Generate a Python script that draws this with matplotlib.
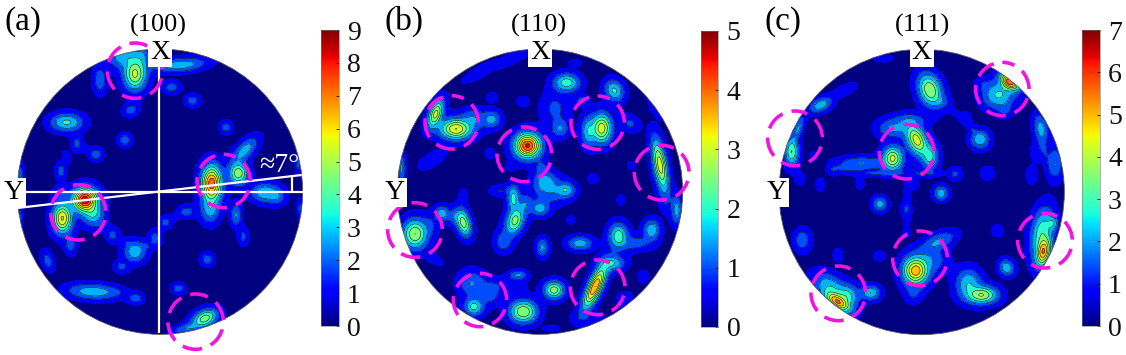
import numpy as np
import matplotlib
matplotlib.use('Agg')
import matplotlib.pyplot as plt
from matplotlib.patches import Circle
from matplotlib.cm import ScalarMappable
from matplotlib.colors import Normalize

plt.rcParams['font.family'] = ['Liberation Serif', 'DejaVu Serif']

# peaks of each pole figure: x, y, height, width along, width across, tilt
# x and y are in units of 1/3 pixel inside each panel
peaks_a = [
    (405, 222, 5.6, 20, 28, 0), (370, 170, 3.2, 32, 22, 0), (300, 240, 2.4, 14, 28, 0),
    (425, 170, 2.4, 16, 24, 0), (540, 195, 3.4, 48, 13, -5), (515, 262, 2.2, 18, 13, 0),
    (578, 302, 2.2, 16, 13, 0), (392, 330, 2.2, 17, 13, -20), (375, 420, 2.3, 14, 14, 0),
    (200, 367, 3.8, 30, 17, 0), (230, 430, 2.0, 12, 18, 0), (288, 463, 2.3, 14, 14, 0),
    (183, 513, 2.2, 11, 18, 0), (60, 530, 2.4, 8, 28, 0), (60, 650, 2.0, 6, 25, 0),
    (255, 600, 8.8, 20, 20, 0), (280, 640, 3.6, 20, 24, 0), (187, 655, 6.4, 17, 26, 0),
    (180, 580, 2.2, 14, 14, 0), (212, 735, 2.2, 12, 19, 0), (143, 782, 2.2, 12, 22, -20),
    (338, 705, 2.1, 13, 16, 0), (405, 755, 3.4, 21, 20, 0), (365, 800, 2.0, 16, 13, 0),
    (465, 715, 2.2, 13, 17, 0), (497, 668, 2.1, 13, 13, 0), (435, 738, 1.5, 14, 8, 0),
    (560, 635, 2.2, 18, 13, 0), (635, 550, 7.8, 17, 30, 0), (630, 625, 3.2, 18, 28, 0),
    (715, 520, 5.2, 17, 20, 0), (735, 450, 3.2, 32, 15, -45), (678, 382, 2.2, 13, 13, 0),
    (795, 578, 3.5, 26, 18, 0), (830, 590, 2.4, 18, 17, 0), (708, 645, 2.8, 11, 22, 0),
    (730, 710, 2.0, 11, 18, 0), (622, 778, 2.3, 14, 14, 0), (280, 875, 3.4, 48, 15, 3),
    (408, 895, 2.3, 15, 11, 0), (535, 865, 2.3, 14, 11, 0), (615, 955, 5.0, 24, 15, -25),
    (560, 985, 2.6, 30, 10, -15), (895, 490, 2.2, 6, 20, 0), (900, 625, 2.0, 6, 20, 0),
    (305, 680, 1.4, 12, 10, 40), (380, 728, 1.4, 12, 8, 30), (525, 650, 1.4, 14, 7, -20),
    (200, 470, 1.4, 8, 16, -20), (255, 445, 1.3, 12, 8, 20), (345, 875, 1.3, 18, 8, 10),
]
peaks_b = [
    (182, 342, 3.2, 12, 26, 20), (243, 387, 3.5, 28, 18, 0), (350, 358, 1.7, 18, 17, 0),
    (295, 355, 1.4, 25, 20, 0), (170, 480, 0.95, 33, 14, -30), (345, 460, 0.9, 11, 11, 0),
    (350, 292, 0.85, 11, 11, 0), (443, 304, 0.9, 13, 11, 0), (300, 228, 0.8, 35, 10, -25),
    (375, 190, 0.8, 55, 12, -15), (430, 158, 0.8, 25, 8, 0), (458, 437, 4.6, 22, 21, 0),
    (408, 498, 0.9, 10, 10, 0), (575, 248, 2.3, 24, 17, 0), (600, 188, 0.85, 14, 8, 0),
    (540, 325, 1.1, 30, 35, 0), (555, 385, 1.5, 17, 18, 0), (680, 385, 3.3, 18, 26, 0),
    (640, 395, 1.9, 14, 28, 0), (718, 272, 2.1, 17, 21, -30), (765, 370, 1.1, 22, 16, 30),
    (620, 302, 1.2, 14, 10, 0), (835, 325, 0.8, 6, 28, -30), (855, 495, 3.3, 12, 46, -10),
    (770, 497, 0.9, 9, 9, 0), (654, 536, 0.9, 11, 11, 0), (738, 600, 0.9, 9, 11, 0),
    (905, 630, 1.7, 11, 28, 0), (510, 545, 1.8, 22, 20, 0), (573, 570, 1.9, 17, 14, 0),
    (495, 625, 1.8, 18, 15, 0), (420, 662, 2.7, 16, 26, 20), (415, 595, 2.2, 11, 24, 0),
    (450, 610, 1.3, 14, 20, 0), (385, 725, 1.3, 18, 22, 0), (530, 575, 1.3, 35, 25, 0),
    (375, 572, 1.0, 22, 12, 0), (500, 505, 1.2, 12, 14, 0), (265, 668, 2.8, 13, 25, -15),
    (200, 640, 1.9, 13, 14, 0), (265, 590, 0.9, 9, 18, 0), (235, 650, 1.2, 15, 14, 0),
    (120, 702, 3.0, 22, 26, 0), (80, 505, 1.6, 8, 28, 0), (165, 675, 0.9, 18, 25, 0),
    (175, 775, 0.85, 25, 10, 35), (502, 742, 1.6, 12, 19, 0), (587, 660, 0.85, 9, 9, 0),
    (615, 730, 1.8, 24, 14, 0), (730, 708, 2.3, 18, 24, 0), (830, 690, 1.9, 16, 20, 0),
    (780, 730, 1.2, 35, 16, 0), (660, 860, 4.0, 12, 40, 25), (710, 790, 2.0, 24, 14, 0),
    (805, 830, 0.9, 11, 14, 0), (430, 825, 1.6, 17, 9, 0), (537, 870, 2.8, 18, 16, 0),
    (445, 935, 3.0, 24, 20, 0), (297, 920, 2.2, 18, 17, 0), (290, 850, 1.5, 26, 26, 0),
    (345, 880, 1.3, 20, 22, 0), (395, 855, 0.9, 40, 18, 0), (530, 985, 0.85, 18, 6, 0),
    (640, 955, 0.8, 40, 15, 0), (750, 900, 0.7, 25, 25, 0), (870, 590, 0.8, 14, 30, 0),
]
peaks_c = [
    (400, 175, 1.1, 25, 9, 0), (540, 270, 4.2, 20, 30, -20), (575, 305, 1.5, 16, 12, 0),
    (780, 245, 6.2, 18, 13, 35), (745, 285, 2.9, 30, 26, 0), (765, 330, 1.5, 14, 14, 0),
    (700, 252, 1.1, 18, 14, 0), (645, 355, 1.3, 13, 13, 0), (690, 418, 2.7, 18, 18, 0),
    (712, 520, 1.4, 14, 14, 0), (873, 385, 2.4, 14, 28, -10), (915, 490, 2.1, 16, 32, 0),
    (860, 455, 1.2, 14, 22, 0), (845, 525, 1.4, 11, 18, 0), (880, 755, 5.5, 13, 26, 10),
    (875, 695, 3.2, 20, 45, 10), (908, 670, 2.5, 11, 14, 0), (742, 692, 1.4, 12, 12, 0),
    (770, 803, 2.7, 14, 16, -30), (695, 885, 4.2, 28, 16, 0), (655, 850, 2.7, 24, 28, 0),
    (497, 812, 5.4, 22, 24, 0), (565, 725, 2.2, 36, 16, -25), (545, 780, 1.8, 32, 26, 0),
    (490, 880, 1.4, 18, 22, 0), (470, 700, 1.1, 9, 9, 0), (388, 768, 1.3, 13, 11, 0),
    (265, 765, 1.3, 11, 14, 0), (157, 720, 1.9, 17, 23, 0), (262, 905, 5.4, 26, 12, 35),
    (240, 860, 2.6, 36, 22, 35), (290, 890, 3.0, 22, 22, 0), (362, 878, 2.8, 18, 14, 0),
    (390, 612, 2.5, 14, 14, 0), (573, 580, 2.6, 14, 14, 0), (468, 628, 1.3, 13, 13, 0),
    (490, 553, 1.3, 12, 12, 0), (616, 522, 1.5, 14, 14, 0), (330, 550, 1.2, 9, 14, 0),
    (210, 555, 1.3, 9, 14, 0), (150, 537, 1.3, 10, 13, 0), (250, 510, 1.2, 12, 12, 0),
    (190, 468, 1.2, 9, 9, 0), (125, 455, 3.5, 13, 26, 0), (145, 385, 2.2, 9, 28, 20),
    (212, 315, 2.6, 23, 13, -25), (285, 270, 1.3, 28, 11, -25), (335, 490, 2.1, 48, 14, 0),
    (428, 475, 4.4, 18, 21, 0), (500, 420, 4.6, 17, 30, -25), (540, 470, 3.0, 15, 23, 0),
    (430, 385, 2.2, 32, 18, 0), (480, 360, 1.7, 36, 13, 0),
    (290, 505, 1.4, 25, 7, 0), (390, 520, 1.4, 60, 7, 0), (470, 590, 1.3, 7, 25, 0),
    (610, 335, 1.2, 15, 6, 35), (665, 385, 1.2, 15, 7, 50), (520, 520, 1.3, 40, 7, 0),
    (470, 665, 1.2, 7, 20, 0), (880, 440, 1.3, 8, 30, -15),
]

# dashed rings: x, y, radius
rings_a = [(405, 212, 83), (235, 637, 83), (671, 543, 80), (587, 965, 83)]
rings_b = [(230, 367, 80), (448, 463, 82), (668, 368, 80), (860, 518, 82),
           (120, 690, 82), (315, 900, 80), (668, 862, 82)]
rings_c = [(757, 267, 80), (135, 415, 82), (470, 455, 82), (885, 722, 82),
           (510, 775, 82), (265, 880, 82)]

vmax_list = [9, 5, 7]
letters = ['(a)', '(b)', '(c)']
titles = ['(100)', '(110)', '(111)']
centers = [(480, 575), (495, 575), (515, 576)]
radius = 428
panel_x = [0, 375, 750]
panel_w = [375, 375, 376]
letter_x = [12, 27, 42]
title_x = [475, 493, 517]
y_label_x = [42, 60, 80]
bar_x = [321.3, 701, 1082.3]
bar_y = [30, 31, 30]
W, H = 1126, 355


def density(peaks, xx, yy):
    # peaks merge through a p-norm so overlaps keep the read heights
    p = 2.0
    z = np.zeros_like(xx)
    for x0, y0, h, sa, sb, tilt in peaks:
        t = np.radians(tilt)
        u = (xx - x0)*np.cos(t) + (yy - y0)*np.sin(t)
        v = -(xx - x0)*np.sin(t) + (yy - y0)*np.cos(t)
        r2 = u**2/(2.0*sa**2) + v**2/(2.0*sb**2)
        # narrow core on a wide foot
        one = h*(0.62*np.exp(-r2/1.15) + 0.38*np.exp(-r2/4.0))
        z += one**p
    return z**(1.0/p)


def draw_panel(i, peaks, rings):
    ax = fig.add_axes([panel_x[i]/W, 0, panel_w[i]/W, 1])
    ax.set_xlim(0, panel_w[i]*3)
    ax.set_ylim(H*3, 0)
    ax.axis('off')

    cx, cy = centers[i]
    rng = np.arange(cx - radius - 10, cx + radius + 11, 3.0)
    rngy = np.arange(cy - radius - 10, cy + radius + 11, 3.0)
    xx, yy = np.meshgrid(rng, rngy)
    zz = density(peaks, xx, yy)

    step = vmax_list[i]/10.0
    levels = step*np.arange(0, 11)
    levels[-1] = max(levels[-1], zz.max() + 1)
    cols = [plt.cm.jet(step*k/vmax_list[i]) for k in range(10)]
    disc = Circle((cx, cy), radius, transform=ax.transData, fc='none', ec='#555566', lw=0.6, zorder=3)
    ax.add_patch(disc)
    cf = ax.contourf(xx, yy, zz, levels=levels, colors=cols, zorder=1)
    cl = ax.contour(xx, yy, zz, levels=levels[2:-1], colors='#101020', linewidths=0.4, zorder=2)
    cf.set_clip_path(disc)
    cl.set_clip_path(disc)

    for rx, ry, r in rings:
        ax.add_patch(Circle((rx, ry), r, fc='none', ec='#f015e0', lw=2.6, ls=(2, (5.5, 2.6)),
                            zorder=6, clip_on=False))

    ax.text(letter_x[i], 90, letters[i], fontsize=24, ha='left', va='baseline', zorder=8)
    ax.text(title_x[i], 96, titles[i], fontsize=19, ha='center', va='baseline', zorder=8)
    box = dict(fc='white', ec='none', pad=1.5)
    ax.text(cx, 157, 'X', fontsize=20, ha='center', va='center', bbox=box, zorder=7)
    ax.text(y_label_x[i], 577, 'Y', fontsize=20, ha='center', va='center', bbox=box, zorder=7)
    return ax


def draw_bar(i):
    cax = fig.add_axes([bar_x[i]/W, 1 - (bar_y[i] + 296)/H, 17.4/W, 296/H])
    sm = ScalarMappable(norm=Normalize(0, vmax_list[i]), cmap='jet')
    cb = fig.colorbar(sm, cax=cax)
    cb.set_ticks(np.arange(0, vmax_list[i] + 1))
    cb.ax.tick_params(labelsize=20, length=2.5, width=0.6, direction='in', pad=6, colors='#111111')
    cb.outline.set_linewidth(0.4)
    cb.outline.set_edgecolor('#777777')


def main():
    ax_a = draw_panel(0, peaks_a, rings_a)
    draw_panel(1, peaks_b, rings_b)
    draw_panel(2, peaks_c, rings_c)

    # axes and the tilted direction in panel (a)
    for xs, ys in [([478, 478], [150, 1000]), ([55, 908], [577, 577]),
                   ([52, 905], [624, 525]), ([876, 876], [532, 577])]:
        ax_a.plot(xs, ys, color='white', lw=1.6, zorder=5, solid_capstyle='butt')
    ax_a.text(838, 496, '\u22487\u00b0', color='white', fontsize=20, ha='center',
              va='center', zorder=8)

    for i in range(3):
        draw_bar(i)
    fig.savefig('out.png', dpi=100)


fig = plt.figure(figsize=(W/100.0, H/100.0), dpi=100)
main()
